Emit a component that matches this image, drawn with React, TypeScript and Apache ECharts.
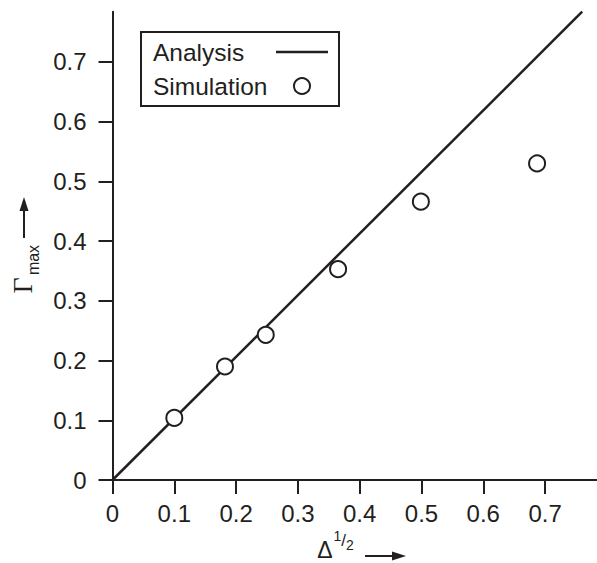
import React, { useEffect, useRef } from "react";
import * as echarts from "echarts";

const tickValues = [0, 0.1, 0.2, 0.3, 0.4, 0.5, 0.6, 0.7];
const tickLabels = ["0", "0.1", "0.2", "0.3", "0.4", "0.5", "0.6", "0.7"];

const analysisX = [0, 0.76];
const analysisY = [0, 0.784];

const simulationX = [0.1, 0.182, 0.248, 0.365, 0.499, 0.687];
const simulationY = [0.104, 0.19, 0.243, 0.353, 0.466, 0.53];

const legendNames = ["Analysis", "Simulation"];

const INK = "#231f20";
const SANS = "'Liberation Sans', Arial, Helvetica, sans-serif";
const SERIF = "'Liberation Serif', 'Times New Roman', serif";

export default function App() {
  const ref = useRef<HTMLDivElement>(null);

  useEffect(() => {
    if (!ref.current) return;
    const chart = echarts.init(ref.current, null, { renderer: "svg" });

    const labelFmt = (v: number) => {
      const i = tickValues.findIndex((t) => Math.abs(t - v) < 1e-6);
      return i >= 0 ? tickLabels[i] : "";
    };

    const axisCommon = {
      type: "value" as const,
      min: 0,
      max: 0.784,
      splitLine: { show: false },
      axisLine: { show: true, lineStyle: { color: INK, width: 2 } },
      axisTick: {
        show: true,
        inside: false,
        length: 14,
        lineStyle: { color: INK, width: 2 },
        customValues: tickValues,
      },
    };

    const option: any = {
      animation: false,
      backgroundColor: "#ffffff",
      grid: { left: 112.5, top: 11.7, right: 0, bottom: 83, containLabel: false },
      xAxis: {
        ...axisCommon,
        axisLabel: {
          color: INK,
          fontSize: 24,
          fontFamily: SANS,
          margin: 21,
          formatter: labelFmt,
          customValues: tickValues,
        },
      },
      yAxis: {
        ...axisCommon,
        axisLabel: {
          color: INK,
          fontSize: 24,
          fontFamily: SANS,
          margin: 26,
          formatter: labelFmt,
          customValues: tickValues,
        },
      },
      series: [
        {
          name: legendNames[0],
          type: "line",
          data: analysisX.map((x, i) => [x, analysisY[i]]),
          showSymbol: false,
          symbol: "none",
          lineStyle: { color: INK, width: 2.5 },
          z: 2,
        },
        {
          name: legendNames[1],
          type: "scatter",
          data: simulationX.map((x, i) => [x, simulationY[i]]),
          symbol: "circle",
          symbolSize: 16,
          itemStyle: { color: "#ffffff", borderColor: INK, borderWidth: 2, opacity: 1 },
          z: 3,
        },
      ],
      graphic: [
        // legend box
        {
          type: "rect",
          shape: { x: 141, y: 32, width: 198, height: 74 },
          style: { fill: "#ffffff", stroke: INK, lineWidth: 2 },
          z: 10,
        },
        {
          type: "text",
          x: 153,
          y: 52,
          style: {
            text: legendNames[0],
            font: `24.5px ${SANS}`,
            fill: INK,
            align: "left",
            verticalAlign: "middle",
          },
          z: 11,
        },
        {
          type: "text",
          x: 153,
          y: 86,
          style: {
            text: legendNames[1],
            font: `24.5px ${SANS}`,
            fill: INK,
            align: "left",
            verticalAlign: "middle",
          },
          z: 11,
        },
        {
          type: "line",
          shape: { x1: 276, y1: 52, x2: 328, y2: 52 },
          style: { stroke: INK, lineWidth: 2.5 },
          z: 11,
        },
        {
          type: "circle",
          shape: { cx: 302, cy: 86, r: 8 },
          style: { fill: "#ffffff", stroke: INK, lineWidth: 2 },
          z: 11,
        },
        // y axis title: Γ_max with arrow
        {
          type: "text",
          x: 22,
          y: 285.5,
          rotation: Math.PI / 2,
          style: {
            text: "Γ",
            font: `28px ${SERIF}`,
            fill: INK,
            align: "center",
            verticalAlign: "middle",
          },
        },
        {
          type: "text",
          x: 33.5,
          y: 260,
          rotation: Math.PI / 2,
          style: {
            text: "max",
            font: `16px ${SANS}`,
            fill: INK,
            align: "center",
            verticalAlign: "middle",
          },
        },
        {
          type: "line",
          shape: { x1: 24, y1: 238, x2: 24, y2: 208 },
          style: { stroke: INK, lineWidth: 2 },
        },
        {
          type: "polygon",
          shape: { points: [[24, 197], [19.5, 211], [28.5, 211]] },
          style: { fill: INK },
        },
        // x axis title: Δ^{1/2} with arrow
        {
          type: "text",
          x: 325,
          y: 550,
          style: {
            text: "Δ",
            font: `23px ${SANS}`,
            fill: INK,
            align: "center",
            verticalAlign: "middle",
          },
        },
        {
          type: "text",
          x: 337.5,
          y: 536,
          style: {
            text: "1",
            font: `14px ${SANS}`,
            fill: INK,
            align: "center",
            verticalAlign: "middle",
          },
        },
        {
          type: "text",
          x: 343.5,
          y: 540.5,
          style: {
            text: "/",
            font: `17px ${SANS}`,
            fill: INK,
            align: "center",
            verticalAlign: "middle",
          },
        },
        {
          type: "text",
          x: 350,
          y: 545,
          style: {
            text: "2",
            font: `14px ${SANS}`,
            fill: INK,
            align: "center",
            verticalAlign: "middle",
          },
        },
        {
          type: "line",
          shape: { x1: 365, y1: 556, x2: 395, y2: 556 },
          style: { stroke: INK, lineWidth: 2 },
        },
        {
          type: "polygon",
          shape: { points: [[406, 556], [392, 551.5], [392, 560.5]] },
          style: { fill: INK },
        },
      ],
    };

    chart.setOption(option);
    return () => chart.dispose();
  }, []);

  return (
    <div
      ref={ref}
      style={{ position: "fixed", left: 0, top: 0, width: 597, height: 563 }}
    />
  );
}
